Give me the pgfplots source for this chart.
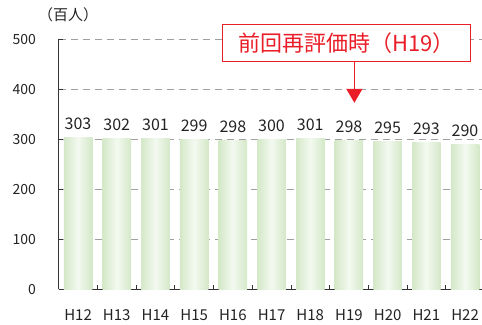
\documentclass[border=0pt]{standalone}
\usepackage{pgfplots}
\pgfplotsset{compat=1.18}
\usepackage{fontspec}
\setmainfont{Noto Sans CJK JP}
\usetikzlibrary{arrows.meta}
\definecolor{barEdge}{RGB}{212,232,200}
\definecolor{barMid}{RGB}{243,249,240}
\definecolor{annRed}{RGB}{234,30,40}
\definecolor{gridGray}{RGB}{160,160,160}
\definecolor{txt}{RGB}{35,35,35}
\pgfplotsset{mybar/.style={ybar, bar width=28.5bp, bar shift=0pt, draw=none,
  left color=barEdge, right color=barEdge, middle color=barMid,
  nodes near coords={\pgfmathprintnumber{\pgfplotspointmeta}},
  nodes near coords style={anchor=south, inner sep=0pt, yshift=7.5bp, font=\fontsize{16bp}{18bp}\selectfont, text=txt}}}
\begin{document}
\begin{tikzpicture}
\useasboundingbox (0,0) rectangle (482bp,-325bp);
\node[font=\fontsize{15bp}{17bp}\selectfont, text=txt, inner sep=0pt] at (68bp,-15bp) {（百人）};
\begin{axis}[
  at={(58.7bp,-289.3bp)}, anchor=south west,
  scale only axis, width=425.7bp, height=250bp,
  xmin=-0.5, xmax=10.5, ymin=0, ymax=500,
  axis x line*=bottom, axis y line*=left,
  axis line style={black!80, line width=0.8bp},
  clip=false,
  /pgf/number format/assume math mode=true,
  ytick={0,100,...,500},
  xtick={0.5,1.5,...,10.5},
  xticklabels={H12,H13,H14,H15,H16,H17,H18,H19,H20,H21,H22},
  tick align=inside,
  major tick length=4bp,
  tick style={black!80, line width=0.8bp},
  xticklabel style={anchor=base, xshift=-19.35bp, yshift=-30.7bp, inner sep=0pt, font=\fontsize{15bp}{17bp}\selectfont, text=txt},
  yticklabel style={anchor=east, xshift=-22.5bp, inner sep=0pt, font=\fontsize{14bp}{16bp}\selectfont, text=txt},
  ymajorgrids,
  grid style={gridGray, line width=0.9bp, dash pattern=on 7.5bp off 4.5bp},
]
\addplot[mybar] coordinates {(0,303)};
\addplot[mybar] coordinates {(1,302)};
\addplot[mybar] coordinates {(2,301)};
\addplot[mybar] coordinates {(3,299)};
\addplot[mybar] coordinates {(4,298)};
\addplot[mybar] coordinates {(5,300)};
\addplot[mybar] coordinates {(6,301)};
\addplot[mybar] coordinates {(7,298)};
\addplot[mybar] coordinates {(8,295)};
\addplot[mybar] coordinates {(9,293)};
\addplot[mybar] coordinates {(10,290)};
\draw[annRed, line width=1.3bp, -{Triangle[width=16bp,length=14bp]}] (axis cs:7.14,456) -- (axis cs:7.14,373);
\node[draw=annRed, line width=1.3bp, fill=white, text=annRed, font=\fontsize{22bp}{25bp}\selectfont, minimum width=248bp, minimum height=37bp, inner sep=0pt] at (axis cs:6.94,493.2) {前回再評価時（H19）};
\end{axis}
\end{tikzpicture}
\end{document}
